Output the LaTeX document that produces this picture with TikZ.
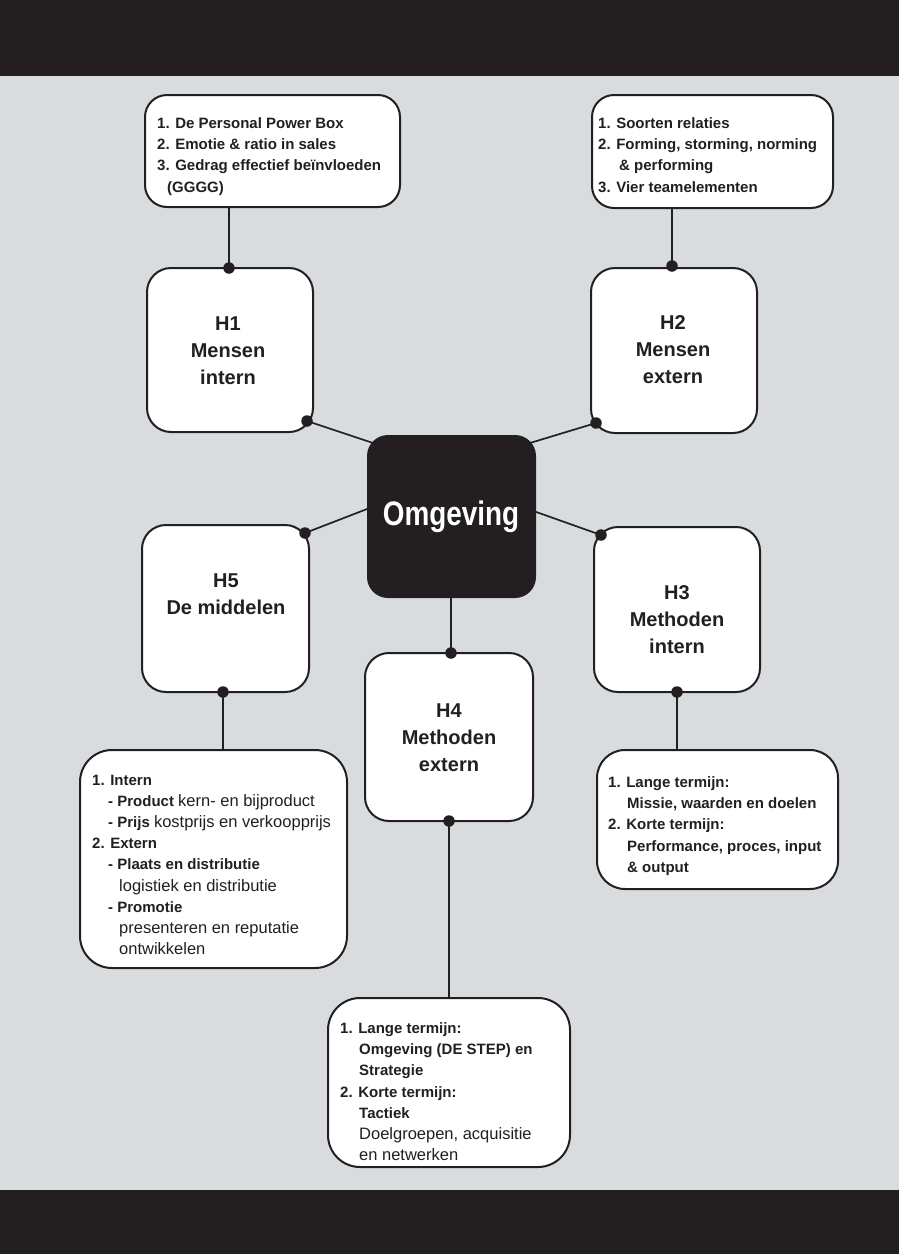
\documentclass[tikz,border=0pt]{standalone}
\usepackage{fontspec}
\setmainfont{Liberation Sans}
\newfontfamily\omgfont{Liberation Sans}[FakeStretch=0.82]
\definecolor{bgc}{RGB}{217,220,223}
\definecolor{ink}{RGB}{35,31,32}
\pgfdeclarelayer{bgl}
\pgfsetlayers{bgl,main}
\newcommand\rg[1]{{\fontsize{16.5}{21}\selectfont\mdseries #1}}
\begin{document}
\begin{tikzpicture}[x=1pt,y=-1pt,
  hbox/.style={draw=ink, line width=2pt, fill=white, rounded corners=24pt, inner sep=0pt},
  tbox/.style={draw=ink, line width=2pt, fill=white, rounded corners=#1, inner sep=0pt},
  tbox/.default=26pt,
  obox/.style={fill=ink, rounded corners=21pt, inner sep=0pt},
  dot/.style={circle, fill=ink, inner sep=0pt, minimum size=11.5pt},
  link/.style={draw=ink, line width=1.7pt},
  ttext/.style={inner sep=0pt, anchor=north west, align=left, font=\fontsize{15}{21.2}\selectfont\bfseries, text=ink},
  htext/.style={inner sep=0pt, align=center, font=\fontsize{20}{27}\selectfont\bfseries, text=ink}]
\useasboundingbox (0,0) rectangle (899,1254);

% boxes
\node[tbox=22pt, minimum width=255pt, minimum height=112pt] (t1) at (272.5,151) {};
\node[tbox=22pt, minimum width=241pt, minimum height=113pt] (t2) at (712.5,151.5) {};
\node[hbox, minimum width=166pt, minimum height=164pt] (h1) at (230,350) {};
\node[hbox, minimum width=166pt, minimum height=165pt] (h2) at (674,350.5) {};
\node[obox, minimum width=169pt, minimum height=163pt] (omg) at (451.5,516.5) {};
\node[hbox, minimum width=167pt, minimum height=167pt] (h5) at (225.5,608.5) {};
\node[hbox, minimum width=166pt, minimum height=165pt] (h3) at (677,609.5) {};
\node[hbox, minimum width=168pt, minimum height=168pt] (h4) at (449,737) {};
\node[tbox=32pt, minimum width=267pt, minimum height=218pt] (t5) at (213.5,859) {};
\node[tbox=28pt, minimum width=241pt, minimum height=139pt] (t3) at (717.5,819.5) {};
\node[tbox=32pt, minimum width=242pt, minimum height=169pt] (t4) at (449,1082.5) {};

% texts
\node[ttext] (t1txt) at (157,117.5) {1. De Personal Power Box\\2. Emotie \& ratio in sales\\3. Gedrag effectief beïnvloeden\\\hspace*{10pt}(GGGG)};
\node[ttext] (t2txt) at (598,117.5) {1. Soorten relaties\\2. Forming, storming, norming\\\hspace*{21pt}\& performing\\3. Vier teamelementen};
\node[ttext] (t3txt) at (608,776.5) {1. Lange termijn:\\\hspace*{19pt}Missie, waarden en doelen\\2. Korte termijn:\\\hspace*{19pt}Performance, proces, input\\\hspace*{19pt}\& output};
\node[ttext] (t5txt) at (92,774.5) {1. Intern\\\hspace*{16pt}- Product \rg{kern- en bijproduct}\\\hspace*{16pt}- Prijs \rg{kostprijs en verkoopprijs}\\2. Extern\\\hspace*{16pt}- Plaats en distributie\\\hspace*{27pt}\rg{logistiek en distributie}\\\hspace*{16pt}- Promotie\\\hspace*{27pt}\rg{presenteren en reputatie}\\\hspace*{27pt}\rg{ontwikkelen}};
\node[ttext] (t4txt) at (340,1022.5) {1. Lange termijn:\\\hspace*{19pt}Omgeving (DE STEP) en\\\hspace*{19pt}Strategie\\2. Korte termijn:\\\hspace*{19pt}Tactiek\\\hspace*{19pt}\rg{Doelgroepen, acquisitie}\\\hspace*{19pt}\rg{en netwerken}};

\node[htext] (h1txt) at (228,350.5) {H1\\Mensen\\intern};
\node[htext] (h2txt) at (673,350) {H2\\Mensen\\extern};
\node[htext] (h5txt) at (226,594.5) {H5\\De middelen};
\node[htext] (h3txt) at (677,620) {H3\\Methoden\\intern};
\node[htext] (h4txt) at (449,737.5) {H4\\Methoden\\extern};
\node[inner sep=0pt, font=\omgfont\bfseries\fontsize{34}{40}\selectfont, text=white] (omgtxt) at (451,517) {Omgeving};

% dots
\node[dot] (h1top) at (229,268) {};
\node[dot] (h2top) at (672,266) {};
\node[dot] (h4top) at (451,653) {};
\node[dot] (h5bot) at (223,692) {};
\node[dot] (h3bot) at (677,692) {};
\node[dot] (h4bot) at (449,821) {};
\node[dot] (h1c) at (307,421) {};
\node[dot] (h2c) at (596,423) {};
\node[dot] (h5c) at (305,533) {};
\node[dot] (h3c) at (601,535) {};

\coordinate (e1) at (385,447);
\coordinate (e2) at (520,446);
\coordinate (e5) at (380,504);
\coordinate (e3) at (525,508);

\begin{pgfonlayer}{bgl}
\fill[bgc] (0,0) rectangle (899,1254);
\fill[ink] (0,0) rectangle (899,76);
\fill[ink] (0,1190) rectangle (899,1254);
\draw[link] (h1top.center) -- (h1top |- t1.south);
\draw[link] (h2top.center) -- (h2top |- t2.south);
\draw[link] (h4top.center) -- (h4top |- omg.south);
\draw[link] (h5bot.center) -- (h5bot |- t5.north);
\draw[link] (h3bot.center) -- (h3bot |- t3.north);
\draw[link] (h4bot.center) -- (h4bot |- t4.north);
\draw[link] (h1c.center) -- (e1);
\draw[link] (h2c.center) -- (e2);
\draw[link] (h5c.center) -- (e5);
\draw[link] (h3c.center) -- (e3);
\end{pgfonlayer}
\end{tikzpicture}
\end{document}
